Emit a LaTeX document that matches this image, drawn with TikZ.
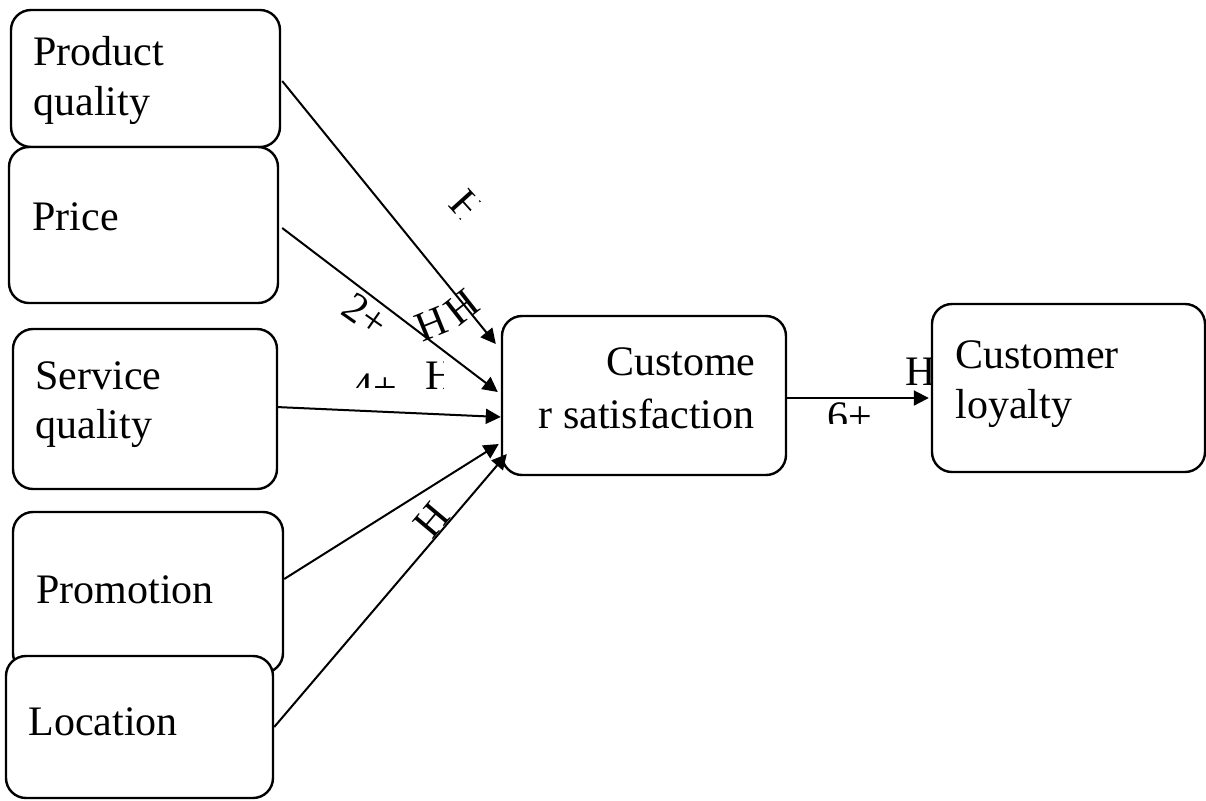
\documentclass[tikz,border=0pt]{standalone}
\usepackage{fontspec}
\setmainfont{Liberation Serif}
\usetikzlibrary{arrows.meta,calc,fit}
\begin{document}
\begin{tikzpicture}[x=0.5pt,y=-0.5pt,
  box/.style={draw, line width=1.2pt, rounded corners=10pt, fill=white, inner sep=0pt},
  txt/.style={inner sep=0pt, anchor=base west, font=\fontsize{21}{25}\selectfont},
  txtr/.style={inner sep=0pt, anchor=base east, font=\fontsize{21}{25}\selectfont},
  lab/.style={inner sep=0pt, font=\fontsize{21}{25}\selectfont},
  conn/.style={line width=1pt, -{Triangle[length=7.5pt,width=7.5pt]}}]
\useasboundingbox (0,0) rectangle (1206,800);

% boxes
\node[box, fit={(11,10) (280,147)}] (pq) {};
\node[box, fit={(9,147) (278,303)}] (pr) {};
\node[box, fit={(13,329) (277,489)}] (sq) {};
\node[box, fit={(13,512) (283,673)}] (pm) {};
\node[box, fit={(6,656) (273,798)}] (lo) {};
\node[box, fit={(502,316) (786,475)}] (cs) {};

% label fragments
\begin{scope}[shift={(468,208)},rotate=-48]
  \clip (-17,-22) rectangle (3,22);
  \node[lab, transform shape] (h1a) at (0,0) {H};
\end{scope}
\node[lab, rotate=38] (h1b) at (462,307) {H};
\node[lab, rotate=22] (h2a) at (431,324) {H};
\node[lab, rotate=-35] (n2) at (366,315) {2+};
\begin{scope}
  \clip (345,360) rectangle (400,387);
  \node[txt] (n4) at (352,401) {4+};
\end{scope}
\begin{scope}
  \clip (420,350) rectangle (443,400);
  \node[txt] (h3) at (425,389) {H};
\end{scope}
\node[lab, rotate=50] (h5) at (432,520) {H};
\node[txt] (h6) at (905,385) {H};
\begin{scope}
  \clip (820,395) rectangle (880,423);
  \node[txt] (n6) at (827,430) {6+};
\end{scope}

\node[box, fit={(932,304) (1205,472)}] (cl) {};

% texts
\node[txt] (t1a) at (33,65) {Product};
\node[txt] (t1b) at (33,115) {quality};
\node[txt] (t2) at (32,230) {Price};
\node[txt] (t3a) at (35,389) {Service};
\node[txt] (t3b) at (35,438) {quality};
\node[txt] (t4) at (36,603) {Promotion};
\node[txt] (t5) at (28,735) {Location};
\node[txtr] (t6a) at (756,375) {Custome};
\node[txtr] (t6b) at (755,428) {r satisfaction};
\node[txt] (t7a) at (955,368) {Customer};
\node[txt] (t7b) at (955,418) {loyalty};

% connectors
\draw[conn] ($(pq.east)+(1,2.5)$) -- ($(cs.west)+(-5,-51.5)$);
\draw[conn] ($(pr.east)+(3,3)$) -- ($(cs.west)+(-3,-3.5)$);
\draw[conn] ($(sq.east)+(-2,-2)$) -- ($(cs.west)+(0,21.5)$);
\draw[conn] ($(pm.east)+(0,-13.5)$) -- ($(cs.west)+(-2,48.5)$);
\draw[conn] (lo.east) -- ($(cs.west)+(6,58.5)$);
\draw[conn] ($(cs.east)+(0,2.5)$) -- ($(cl.west)+(-2,10)$);
\end{tikzpicture}
\end{document}
